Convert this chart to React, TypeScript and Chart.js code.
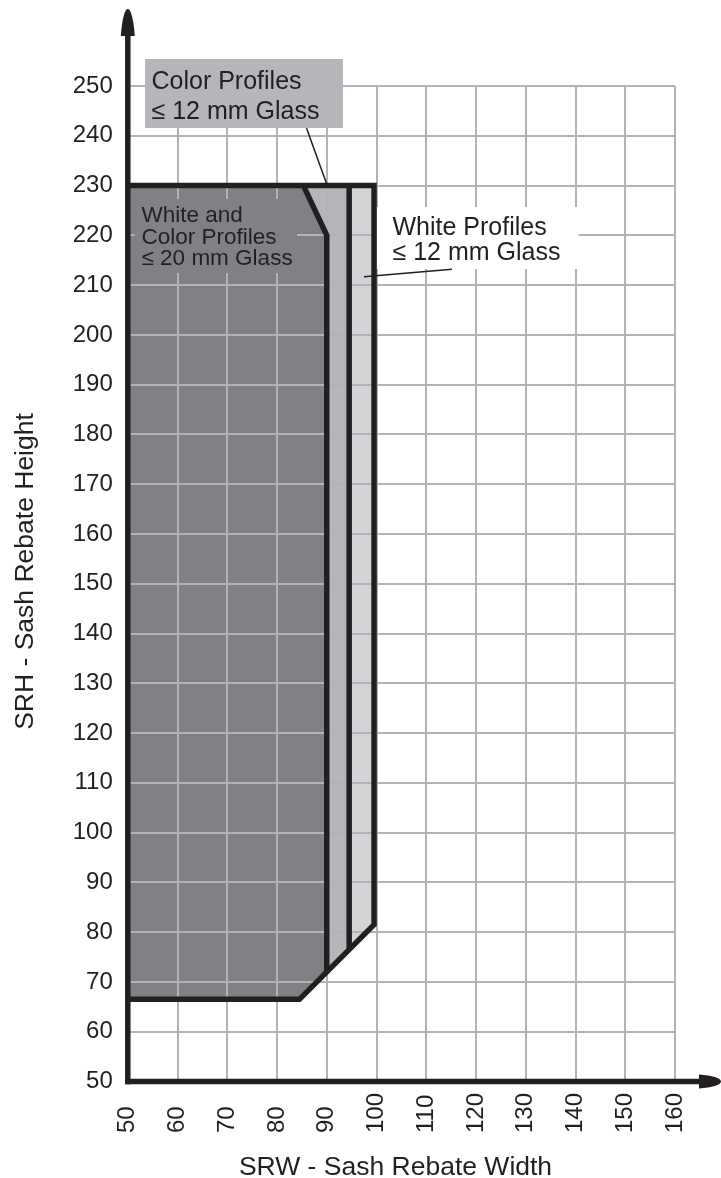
import React, { useEffect, useRef } from "react";
import { Chart, registerables } from "chart.js";

Chart.register(...registerables);

const FONT = "'Liberation Sans', Arial, Helvetica, sans-serif";
const INK = "#231f20";
const GRID = "#b2b3b6";
const DARK = "#808185";
const MEDIUM = "#b5b6b9";
const LIGHT = "#d3d4d6";

// ---- data (SRW = width, SRH = height) ----
const widthTicks = [50, 60, 70, 80, 90, 100, 110, 120, 130, 140, 150, 160];
const heightTicks = [50, 60, 70, 80, 90, 100, 110, 120, 130, 140, 150, 160, 170, 180, 190, 200, 210, 220, 230, 240, 250];

// White and Color Profiles <= 20 mm Glass
const darkRegionW = [50, 50, 85.3, 90, 90, 84.5, 50];
const darkRegionH = [66.5, 230, 230, 220, 72, 66.5, 66.5];
// Color Profiles <= 12 mm Glass
const colorRegionW = [85.3, 94.5, 94.5, 90, 90, 85.3];
const colorRegionH = [230, 230, 76.5, 72, 220, 230];
// White Profiles <= 12 mm Glass
const whiteRegionW = [94.5, 99.5, 99.5, 94.5, 94.5];
const whiteRegionH = [230, 230, 81.5, 76.5, 230];

// thick outlines
const outerBorderW = [50, 84.5, 99.5, 99.5, 50];
const outerBorderH = [66.5, 66.5, 81.5, 230, 230];
const innerBorderW = [85.3, 90, 90];
const innerBorderH = [230, 220, 72];
const midBorderW = [94.5, 94.5];
const midBorderH = [230, 76.5];

const xTitle = "SRW - Sash Rebate Width";
const yTitle = "SRH - Sash Rebate Height";
const darkLabel = ["White and", "Color Profiles", "\u2264 20 mm Glass"];
const colorLabel = ["Color Profiles", "\u2264 12 mm Glass"];
const whiteLabel = ["White Profiles", "\u2264 12 mm Glass"];

const pts = (xs: number[], ys: number[]) => xs.map((x, i) => ({ x, y: ys[i] }));

const overlayPlugin = {
  id: "overlay",
  beforeDatasetDraw(chart: any, args: any) {
    const ds = chart.data.datasets[args.index];
    if (ds.isOutline) return false;
  },
  afterDraw(chart: any) {
    const ctx = chart.ctx as CanvasRenderingContext2D;
    const xs = chart.scales.x;
    const ys = chart.scales.y;
    const x0 = xs.getPixelForValue(50);
    const y0 = ys.getPixelForValue(50);

    // label backgrounds
    ctx.save();
    ctx.fillStyle = DARK;
    ctx.fillRect(135, 199, 162, 74);
    ctx.fillStyle = "#ffffff";
    ctx.fillRect(376.5, 207, 202, 62);
    ctx.fillStyle = MEDIUM;
    ctx.fillRect(145, 59, 198, 69);
    ctx.restore();

    // outlines (datasets drawn after the grid)
    chart.data.datasets.forEach((ds: any, i: number) => {
      if (ds.isOutline) chart.getDatasetMeta(i).controller.draw();
    });

    ctx.save();
    // axes with arrows
    ctx.strokeStyle = INK;
    ctx.fillStyle = INK;
    ctx.lineWidth = 5.5;
    ctx.lineCap = "butt";
    ctx.beginPath();
    ctx.moveTo(x0, y0 + 2.75);
    ctx.lineTo(x0, 32);
    ctx.stroke();
    ctx.beginPath();
    ctx.moveTo(x0 - 2.75, y0);
    ctx.lineTo(702, y0);
    ctx.stroke();
    // y arrow
    ctx.beginPath();
    ctx.moveTo(x0 - 7, 36);
    ctx.bezierCurveTo(x0 - 6, 22, x0 - 3.5, 9, x0, 9);
    ctx.bezierCurveTo(x0 + 3.5, 9, x0 + 6, 22, x0 + 7, 36);
    ctx.closePath();
    ctx.fill();
    // x arrow
    ctx.beginPath();
    ctx.moveTo(699, y0 - 7);
    ctx.bezierCurveTo(712, y0 - 6, 721, y0 - 3.5, 721, y0);
    ctx.bezierCurveTo(721, y0 + 3.5, 712, y0 + 6, 699, y0 + 7);
    ctx.closePath();
    ctx.fill();

    // leader lines
    ctx.lineWidth = 1.5;
    ctx.beginPath();
    ctx.moveTo(306.5, 128);
    ctx.lineTo(326.5, 183.5);
    ctx.stroke();
    ctx.beginPath();
    ctx.moveTo(452, 269.3);
    ctx.lineTo(364, 276.7);
    ctx.stroke();

    // labels
    ctx.fillStyle = INK;
    ctx.textBaseline = "alphabetic";
    ctx.textAlign = "left";
    ctx.font = `22.5px ${FONT}`;
    [221.7, 243.5, 265.2].forEach((b, i) => ctx.fillText(darkLabel[i], 141.5, b));
    ctx.font = `25px ${FONT}`;
    [88.5, 118.5].forEach((b, i) => ctx.fillText(colorLabel[i], 151.5, b));
    [235, 259.5].forEach((b, i) => ctx.fillText(whiteLabel[i], 392.5, b));

    // x tick labels (rotated, reading upward)
    ctx.font = `24px ${FONT}`;
    xs.ticks.forEach((t: any) => {
      const px = xs.getPixelForValue(t.value);
      ctx.save();
      ctx.translate(px, 1133);
      ctx.rotate(-Math.PI / 2);
      ctx.textAlign = "left";
      ctx.textBaseline = "middle";
      ctx.fillText(String(t.value), 0, 0);
      ctx.restore();
    });

    // axis titles
    ctx.font = `26.5px ${FONT}`;
    ctx.textAlign = "center";
    ctx.textBaseline = "alphabetic";
    ctx.fillText(xTitle, 395.5, 1174.5);
    ctx.save();
    ctx.translate(32.5, 571.5);
    ctx.rotate(-Math.PI / 2);
    ctx.fillText(yTitle, 0, 0);
    ctx.restore();
    ctx.restore();
  },
};

export default function App() {
  const ref = useRef<HTMLCanvasElement>(null);

  useEffect(() => {
    const canvas = ref.current;
    if (!canvas) return;
    const region = (label: string, xsArr: number[], ysArr: number[], color: string) => ({
      label,
      data: pts(xsArr, ysArr),
      showLine: true,
      fill: "shape",
      backgroundColor: color,
      borderWidth: 0,
      borderColor: color,
      pointRadius: 0,
    });
    const outline = (label: string, xsArr: number[], ysArr: number[]) => ({
      label,
      data: pts(xsArr, ysArr),
      showLine: true,
      fill: false,
      borderColor: INK,
      borderWidth: 5.5,
      borderJoinStyle: "miter",
      borderCapStyle: "butt",
      pointRadius: 0,
      isOutline: true,
    });

    const chart = new Chart(canvas, {
      type: "scatter",
      data: {
        datasets: [
          region("White and Color Profiles \u2264 20 mm Glass", darkRegionW, darkRegionH, DARK),
          region("Color Profiles \u2264 12 mm Glass", colorRegionW, colorRegionH, MEDIUM),
          region("White Profiles \u2264 12 mm Glass", whiteRegionW, whiteRegionH, LIGHT),
          outline("outer", outerBorderW, outerBorderH),
          outline("inner", innerBorderW, innerBorderH),
          outline("mid", midBorderW, midBorderH),
        ] as any,
      },
      options: {
        responsive: false,
        animation: false,
        events: [],
        layout: { padding: { top: 86, right: 46, bottom: 0, left: 0 } },
        plugins: {
          legend: { display: false },
          tooltip: { enabled: false },
        },
        scales: {
          x: {
            type: "linear",
            min: 50,
            max: 160,
            afterBuildTicks: (axis: any) => {
              axis.ticks = widthTicks.map((value) => ({ value }));
            },
            afterFit: (axis: any) => {
              axis.height = 96.5;
            },
            ticks: { display: false },
            grid: { color: GRID, lineWidth: 2, drawTicks: false, z: 1 },
            border: { display: false },
          },
          y: {
            type: "linear",
            min: 50,
            max: 250,
            afterBuildTicks: (axis: any) => {
              axis.ticks = heightTicks.map((value) => ({ value }));
            },
            afterFit: (axis: any) => {
              axis.width = 127.8;
            },
            ticks: {
              padding: 15,
              color: INK,
              font: { family: FONT, size: 24 },
            },
            grid: { color: GRID, lineWidth: 2, drawTicks: false, z: 1 },
            border: { display: false },
          },
        },
      } as any,
      plugins: [overlayPlugin as any],
    });
    return () => chart.destroy();
  }, []);

  return (
    <div style={{ position: "absolute", left: 0, top: 0, width: 721, height: 1178, background: "#ffffff" }}>
      <canvas ref={ref} width={721} height={1178} style={{ display: "block", width: 721, height: 1178 }} />
    </div>
  );
}
